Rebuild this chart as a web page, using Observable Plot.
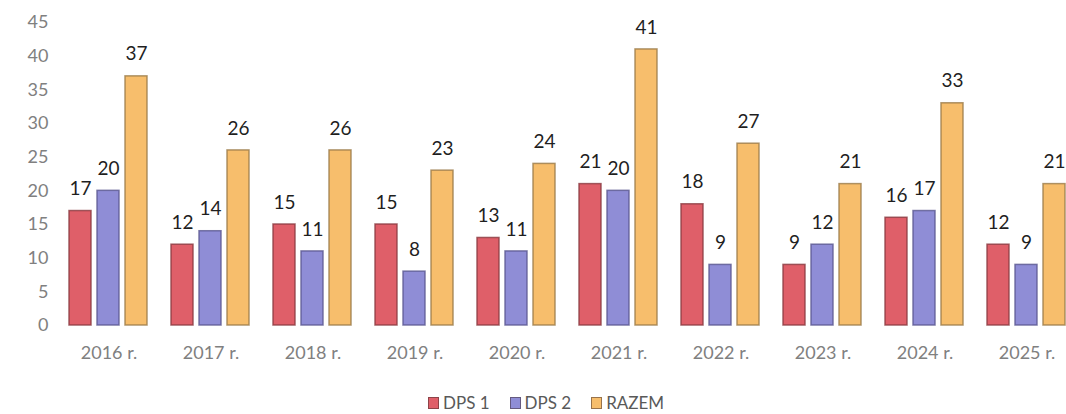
<!DOCTYPE html>
<html>
<head>
<meta charset="utf-8">
<script src="https://cdn.jsdelivr.net/npm/d3@7"></script>
<script src="https://cdn.jsdelivr.net/npm/@observablehq/plot@0.6"></script>
<style>
  html, body { margin: 0; padding: 0; background: #fff; overflow: hidden; width: 1066px; height: 414px; }
  #chart { width: 1082px; height: 372px; }
  .legend { position: absolute; left: 428px; top: 394px; display: flex; gap: 20px;
            font-family: Lato, "Open Sans", sans-serif; font-size: 17px; color: #595959; line-height: 18px; }
  .legend span.item { display: inline-flex; align-items: center; gap: 4px; }
  .legend span.sw { display: inline-block; width: 11px; height: 12px; border: 1px solid rgba(60,40,40,0.5); box-sizing: border-box; }
</style>
</head>
<body>
<div id="chart"></div>
<div class="legend" id="legend"></div>
<script>
const years = ["2016 r.", "2017 r.", "2018 r.", "2019 r.", "2020 r.", "2021 r.", "2022 r.", "2023 r.", "2024 r.", "2025 r."];
const seriesNames = ["DPS 1", "DPS 2", "RAZEM"];
const dps1 = [17, 12, 15, 15, 13, 21, 18, 9, 16, 12];
const dps2 = [20, 14, 11, 8, 11, 20, 9, 12, 17, 9];
const razem = [37, 26, 26, 23, 24, 41, 27, 21, 33, 21];
const colors = ["#df5f69", "#8f8dd6", "#f7be6c"];
const strokes = ["#8a3a40", "#5a5890", "#9a7a48"];

const valuesBySeries = [dps1, dps2, razem];
const rows = [];
years.forEach((y, i) => {
  seriesNames.forEach((s, j) => rows.push({year: y, series: s, value: valuesBySeries[j][i]}));
});

const chart = Plot.plot({
  width: 1082,
  height: 372,
  marginLeft: 54,
  marginRight: 0,
  marginTop: 22,
  marginBottom: 47,
  style: {fontFamily: "Lato, 'Open Sans', sans-serif", fontSize: "18px", color: "#808080", background: "#fff", maxWidth: "none"},
  facet: {data: rows, x: "year"},
  fx: {domain: years, paddingInner: 0.225, paddingOuter: 0.115, tickSize: 0, tickPadding: 21, label: null, axis: "bottom"},
  x: {domain: seriesNames, paddingInner: 0.2, paddingOuter: 0, axis: null},
  y: {domain: [0, 45], ticks: 9, tickSize: 0, tickPadding: 21, label: null},
  color: {domain: seriesNames, range: colors},
  marks: [
    Plot.barY(rows, {x: "series", y: "value", fill: "series",
      stroke: d => strokes[seriesNames.indexOf(d.series)], strokeWidth: 1.5, strokeOpacity: 0.8}),
    Plot.text(rows, {x: "series", y: "value", text: d => String(d.value), dy: -22,
      fill: "#1f1f1f", fontSize: 19})
  ]
});
document.getElementById("chart").appendChild(chart);

const legend = document.getElementById("legend");
seriesNames.forEach((s, j) => {
  const item = document.createElement("span");
  item.className = "item";
  const sw = document.createElement("span");
  sw.className = "sw";
  sw.style.background = colors[j];
  item.appendChild(sw);
  item.appendChild(document.createTextNode(s));
  legend.appendChild(item);
});
</script>
</body>
</html>
